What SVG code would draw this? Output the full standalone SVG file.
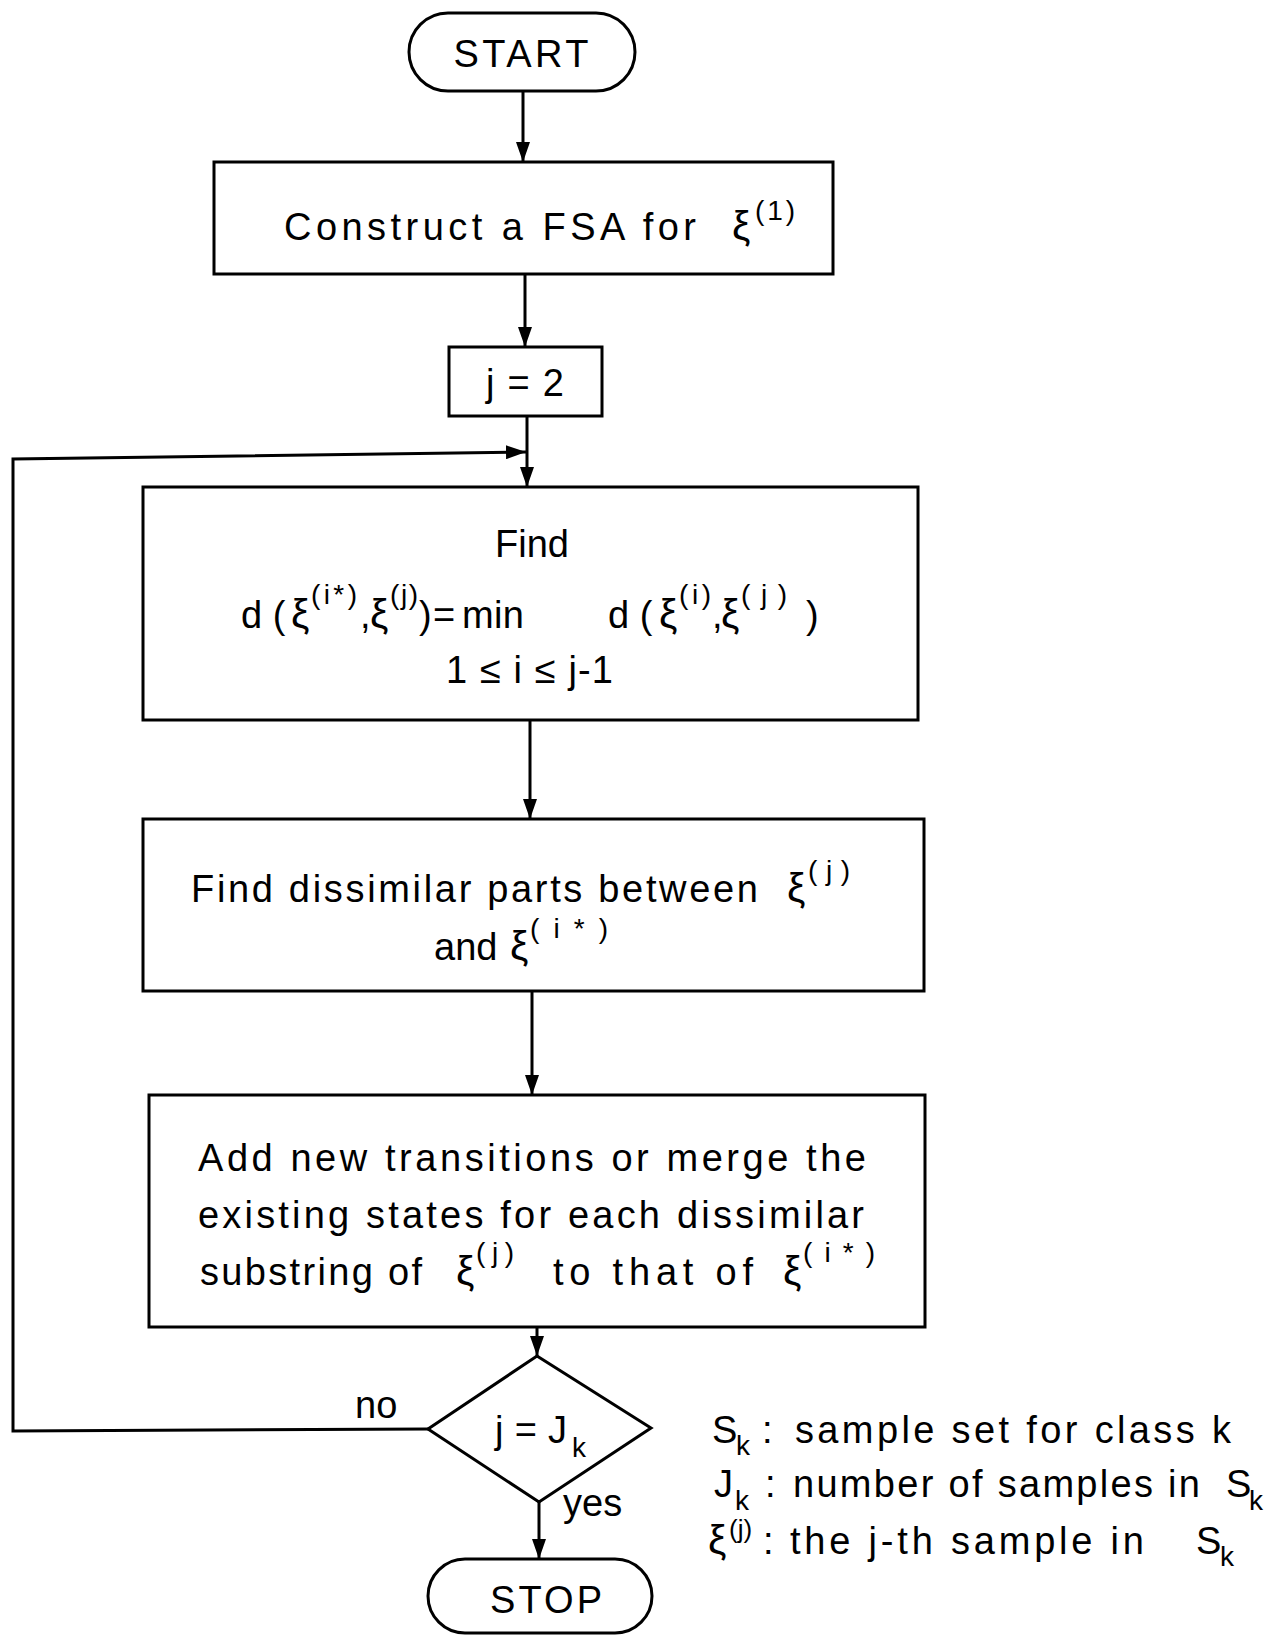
<svg xmlns="http://www.w3.org/2000/svg" width="1283" height="1636" viewBox="0 0 1283 1636">
<style>
.b{fill:#fff;stroke:#000;stroke-width:3}
.c{fill:none;stroke:#000;stroke-width:3}
.t{font-family:"Liberation Sans",Arial,sans-serif;font-size:38px;fill:#000}
.x{font-family:"Liberation Sans",Arial,sans-serif;font-size:41px;fill:#000}
.s{font-family:"Liberation Sans",Arial,sans-serif;font-size:28px;fill:#000}
.m{text-anchor:middle}
</style>
<defs>
<marker id="ah" viewBox="0 0 20 14" refX="20" refY="7" markerWidth="20" markerHeight="14" markerUnits="userSpaceOnUse" orient="auto">
<path d="M0,0 L20,7 L0,14 z" fill="#000"/>
</marker>
</defs>
<rect width="1283" height="1636" fill="#fff"/>
<g id="connectors">
<line class="c" x1="523" y1="92" x2="523" y2="162" marker-end="url(#ah)"/>
<line class="c" x1="525" y1="274" x2="525" y2="347" marker-end="url(#ah)"/>
<line class="c" x1="527" y1="416" x2="527" y2="487" marker-end="url(#ah)"/>
<line class="c" x1="530" y1="720" x2="530" y2="819" marker-end="url(#ah)"/>
<line class="c" x1="532" y1="991" x2="532" y2="1095" marker-end="url(#ah)"/>
<line class="c" x1="537" y1="1327" x2="537" y2="1356" marker-end="url(#ah)"/>
<line class="c" x1="539" y1="1502" x2="539" y2="1559" marker-end="url(#ah)"/>
<polyline class="c" points="428,1429 13,1431 13,459 526,452" marker-end="url(#ah)"/>
</g>
<g id="start">
<rect class="b" x="409" y="13" width="226" height="78" rx="39"/>
<text class="t m" x="521" y="67" textLength="135" lengthAdjust="spacing">START</text>
</g>
<g id="construct">
<rect class="b" x="214" y="162" width="619" height="112"/>
<text class="t" x="284" y="240" textLength="412" lengthAdjust="spacing">Construct  a  FSA  for</text>
<text class="x" x="732" y="240">ξ</text>
<text class="s" x="755" y="220" textLength="40" lengthAdjust="spacing">(1)</text>
</g>
<g id="init">
<rect class="b" x="449" y="347" width="153" height="69"/>
<text class="t m" x="525" y="396" textLength="78" lengthAdjust="spacing">j = 2</text>
</g>
<g id="find_min">
<rect class="b" x="143" y="487" width="775" height="233"/>
<text class="t m" x="532" y="557">Find</text>
<text class="t" x="241" y="628">d (</text>
<text class="x" x="291" y="628">ξ</text>
<text class="s" x="311" y="604" textLength="46" lengthAdjust="spacing">(i*)</text>
<text class="t" x="360" y="628">,</text>
<text class="x" x="370" y="628">ξ</text>
<text class="s" x="390" y="604" textLength="28" lengthAdjust="spacing">(j)</text>
<text class="t" x="419" y="628">)</text>
<text class="t" x="433" y="628">=</text>
<text class="t" x="462" y="628" textLength="62" lengthAdjust="spacing">min</text>
<text class="t" x="608" y="628">d (</text>
<text class="x" x="659" y="628">ξ</text>
<text class="s" x="679" y="604" textLength="32" lengthAdjust="spacing">(i)</text>
<text class="t" x="712" y="628">,</text>
<text class="x" x="721" y="628">ξ</text>
<text class="s" x="741" y="604" textLength="46" lengthAdjust="spacing">( j )</text>
<text class="t" x="806" y="628">)</text>
<text class="t" x="446" y="683" textLength="167" lengthAdjust="spacing">1 ≤ i ≤ j-1</text>
</g>
<g id="find_dissim">
<rect class="b" x="143" y="819" width="781" height="172"/>
<text class="t" x="191" y="902" textLength="567" lengthAdjust="spacing">Find  dissimilar  parts  between</text>
<text class="x" x="787" y="902">ξ</text>
<text class="s" x="808" y="880" textLength="42" lengthAdjust="spacing">(j)</text>
<text class="t" x="434" y="960">and</text>
<text class="x" x="510" y="960">ξ</text>
<text class="s" x="530" y="938" textLength="78" lengthAdjust="spacing">(i*)</text>
</g>
<g id="update">
<rect class="b" x="149" y="1095" width="776" height="232"/>
<text class="t" x="198" y="1171" textLength="668" lengthAdjust="spacing">Add  new  transitions  or  merge  the</text>
<text class="t" x="198" y="1228" textLength="666" lengthAdjust="spacing">existing  states  for  each  dissimilar</text>
<text class="t" x="200" y="1285" textLength="222" lengthAdjust="spacing">substring  of</text>
<text class="x" x="456" y="1285">ξ</text>
<text class="s" x="476" y="1262" textLength="38" lengthAdjust="spacing">(j)</text>
<text class="t" x="553" y="1285" textLength="200" lengthAdjust="spacing">to  that  of</text>
<text class="x" x="783" y="1285">ξ</text>
<text class="s" x="803" y="1262" textLength="72" lengthAdjust="spacing">(i*)</text>
</g>
<g id="decision">
<polygon class="b" points="537,1356 651,1428 539,1502 428,1429"/>
<text class="t" x="495" y="1443" textLength="72" lengthAdjust="spacing">j = J</text>
<text class="s" x="572" y="1457">k</text>
</g>
<g id="stop">
<rect class="b" x="428" y="1559" width="224" height="74" rx="37"/>
<text class="t m" x="546" y="1613" textLength="112" lengthAdjust="spacing">STOP</text>
</g>
<g id="labels">
<text class="t" x="355" y="1418">no</text>
<text class="t" x="563" y="1516">yes</text>
</g>
<g id="legend">
<text class="t" x="712" y="1443">S</text>
<text class="s" x="736" y="1455">k</text>
<text class="t" x="762" y="1443">:</text>
<text class="t" x="795" y="1443" textLength="436" lengthAdjust="spacing">sample  set  for  class  k</text>
<text class="t" x="714" y="1497">J</text>
<text class="s" x="735" y="1510">k</text>
<text class="t" x="765" y="1497">:</text>
<text class="t" x="793" y="1497" textLength="407" lengthAdjust="spacing">number  of  samples  in</text>
<text class="t" x="1226" y="1497">S</text>
<text class="s" x="1249" y="1510">k</text>
<text class="x" x="708" y="1554">ξ</text>
<text class="s" x="729" y="1538" style="font-size:26px">(j)</text>
<text class="t" x="763" y="1554">:</text>
<text class="t" x="790" y="1554" textLength="354" lengthAdjust="spacing">the  j-th  sample  in</text>
<text class="t" x="1196" y="1554">S</text>
<text class="s" x="1220" y="1566">k</text>
</g>
</svg>
